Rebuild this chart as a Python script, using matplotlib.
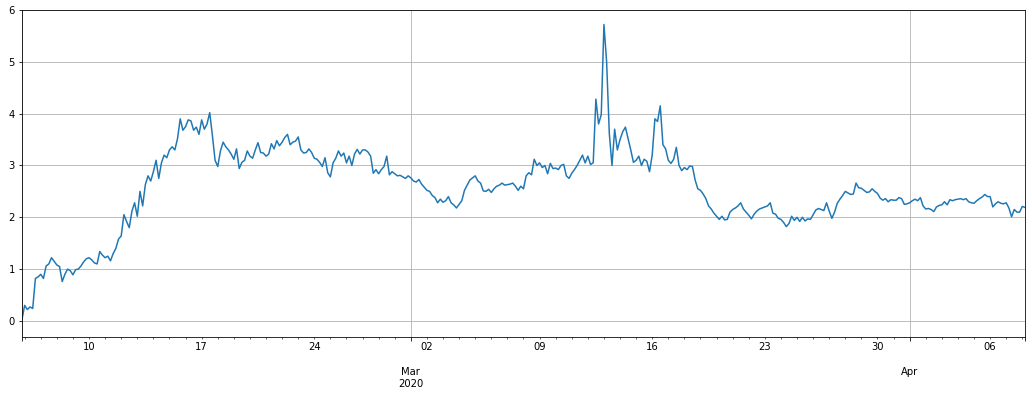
# Hourly-ish index series, resampled to 4h readings

import numpy as np
import pandas as pd
import matplotlib
matplotlib.use("Agg")
import matplotlib.pyplot as plt

# 4-hour readings, starting 2020-02-05 20:00
start = "2020-02-05 20:00"

feb_wk1 = [0.03,
           0.30, 0.22, 0.27, 0.24, 0.82, 0.85,   # Feb 6
           0.90, 0.82, 1.06, 1.10, 1.22, 1.15,   # Feb 7
           1.08, 1.05, 0.76, 0.90, 1.00, 0.97,   # Feb 8
           0.89, 0.99, 1.00, 1.06, 1.14, 1.20]   # Feb 9

feb_wk2 = [1.22, 1.18, 1.12, 1.10, 1.34, 1.27,   # Feb 10
           1.22, 1.25, 1.16, 1.30, 1.40, 1.58,   # Feb 11
           1.64, 2.05, 1.92, 1.80, 2.12, 2.28,   # Feb 12
           2.02, 2.50, 2.22, 2.63, 2.80, 2.70,   # Feb 13
           2.88, 3.10, 2.75, 3.05, 3.20, 3.15,   # Feb 14
           3.30, 3.36, 3.30, 3.52, 3.90, 3.68,   # Feb 15
           3.75, 3.88, 3.86, 3.68, 3.74, 3.60]   # Feb 16

feb_wk3 = [3.88, 3.70, 3.80, 4.02, 3.58, 3.10,   # Feb 17
           2.98, 3.28, 3.45, 3.36, 3.30, 3.22,   # Feb 18
           3.12, 3.32, 2.94, 3.06, 3.10, 3.28,   # Feb 19
           3.18, 3.14, 3.30, 3.44, 3.25, 3.24,   # Feb 20
           3.18, 3.22, 3.42, 3.32, 3.48, 3.38,   # Feb 21
           3.45, 3.54, 3.60, 3.40, 3.45, 3.47,   # Feb 22
           3.55, 3.30, 3.24, 3.25, 3.32, 3.25]   # Feb 23

feb_wk4 = [3.14, 3.12, 3.06, 2.98, 3.15, 2.86,   # Feb 24
           2.78, 3.05, 3.14, 3.28, 3.18, 3.24,   # Feb 25
           3.05, 3.18, 3.00, 3.22, 3.31, 3.22,   # Feb 26
           3.30, 3.30, 3.26, 3.18, 2.85, 2.92,   # Feb 27
           2.84, 2.92, 2.98, 3.18, 2.82, 2.88,   # Feb 28
           2.84, 2.80, 2.81, 2.78, 2.75, 2.80,   # Feb 29
           2.76, 2.70, 2.68, 2.73, 2.64, 2.58]   # Mar 1

mar_wk1 = [2.52, 2.50, 2.42, 2.38, 2.28, 2.35,   # Mar 2
           2.29, 2.32, 2.40, 2.28, 2.24, 2.18,   # Mar 3
           2.25, 2.32, 2.52, 2.62, 2.72, 2.76,   # Mar 4
           2.80, 2.70, 2.66, 2.51, 2.50, 2.54,   # Mar 5
           2.48, 2.55, 2.60, 2.62, 2.66, 2.62,   # Mar 6
           2.63, 2.64, 2.66, 2.60, 2.52, 2.60,   # Mar 7
           2.55, 2.80, 2.86, 2.82, 3.12, 3.00]   # Mar 8

mar_wk2 = [3.05, 2.96, 3.00, 2.84, 3.04, 2.94,   # Mar 9
           2.95, 2.92, 3.00, 3.02, 2.80, 2.75,   # Mar 10
           2.85, 2.92, 3.00, 3.10, 3.20, 3.05,   # Mar 11
           3.18, 3.02, 3.05, 4.28, 3.80, 3.98,   # Mar 12
           5.72, 5.00, 3.62, 3.00, 3.70, 3.30,   # Mar 13
           3.50, 3.65, 3.74, 3.52, 3.30, 3.06,   # Mar 14
           3.10, 3.18, 3.00, 3.12, 3.08, 2.88]   # Mar 15

mar_wk3 = [3.20, 3.90, 3.85, 4.15, 3.40, 3.32,   # Mar 16
           3.10, 3.04, 3.12, 3.35, 3.00, 2.90,   # Mar 17
           2.96, 2.92, 2.99, 2.98, 2.72, 2.55,   # Mar 18
           2.52, 2.45, 2.36, 2.22, 2.16, 2.08,   # Mar 19
           2.02, 1.96, 2.02, 1.95, 1.96, 2.10,   # Mar 20
           2.15, 2.18, 2.22, 2.28, 2.16, 2.10,   # Mar 21
           2.04, 1.97, 2.06, 2.12, 2.16, 2.18]   # Mar 22

mar_wk4 = [2.20, 2.22, 2.28, 2.08, 2.06, 1.98,   # Mar 23
           1.96, 1.90, 1.82, 1.88, 2.02, 1.94,   # Mar 24
           2.00, 1.92, 2.00, 1.93, 1.97, 1.96,   # Mar 25
           2.05, 2.14, 2.17, 2.15, 2.13, 2.28,   # Mar 26
           2.12, 1.98, 2.10, 2.27, 2.35, 2.42,   # Mar 27
           2.50, 2.47, 2.44, 2.45, 2.66, 2.57,   # Mar 28
           2.56, 2.52, 2.48, 2.49, 2.55, 2.50]   # Mar 29

apr_wk1 = [2.46, 2.37, 2.33, 2.36, 2.30, 2.34,   # Mar 30
           2.33, 2.33, 2.38, 2.36, 2.25, 2.26,   # Mar 31
           2.28, 2.32, 2.35, 2.32, 2.38, 2.22,   # Apr 1
           2.16, 2.17, 2.15, 2.11, 2.20, 2.23,   # Apr 2
           2.24, 2.30, 2.24, 2.34, 2.32, 2.34,   # Apr 3
           2.35, 2.36, 2.34, 2.36, 2.30, 2.28,   # Apr 4
           2.27, 2.32, 2.36, 2.39, 2.44, 2.40]   # Apr 5

apr_wk2 = [2.40, 2.20, 2.26, 2.30, 2.27, 2.26,   # Apr 6
           2.28, 2.18, 2.01, 2.15, 2.10, 2.10,   # Apr 7
           2.21, 2.19]                           # Apr 8

values = feb_wk1 + feb_wk2 + feb_wk3 + feb_wk4 + mar_wk1 + mar_wk2 + mar_wk3 + mar_wk4 + apr_wk1 + apr_wk2
idx = pd.date_range(start, periods=len(values), freq="4h")
ts = pd.Series(values, index=idx)

# dpi 72 so 10pt text comes out ~10px, like the reference
fig, ax = plt.subplots(figsize=(1032 / 72, 395 / 72), dpi=72)
fig.subplots_adjust(left=0.0213, right=0.9932, top=0.9747, bottom=0.1468)
ts.plot(ax=ax, grid=True, color="#1f77b4", linewidth=1.5)
ax.set_ylim(-0.31, 6.0)
ax.set_xlabel("")

plt.savefig("out.png", dpi=72)
